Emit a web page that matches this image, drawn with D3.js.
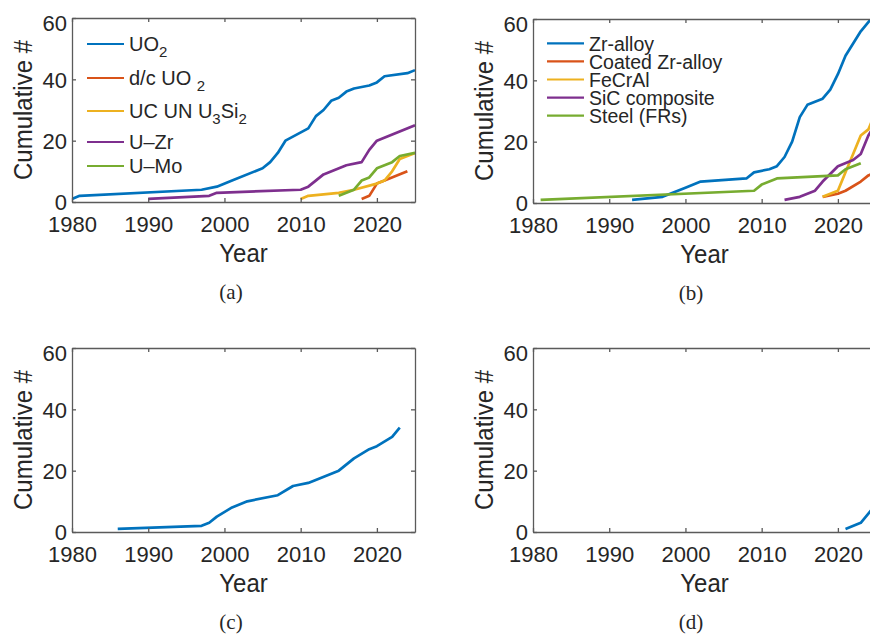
<!DOCTYPE html>
<html>
<head>
<meta charset="utf-8">
<script src="https://cdn.jsdelivr.net/npm/d3@7"></script>
<style>
  body { margin: 0; background: #fff; }
  svg text { font-family: "Liberation Sans", Arial, Helvetica, sans-serif; fill: #262626; }
  .caption { font-family: "Liberation Serif", "DejaVu Serif", serif !important; }
</style>
</head>
<body>
<div id="chart"></div>
<script>
// ---- data ----
const xTicks = [1980, 1990, 2000, 2010, 2020];
const yTicks = [0, 20, 40, 60];

// (a) fuel types
const uo2Years = [1980, 1981, 1997, 1999, 2001, 2005, 2006, 2007, 2008, 2011, 2012, 2013, 2014, 2015, 2016, 2017, 2019, 2020, 2021, 2024, 2025];
const uo2Values = [1, 2, 4, 5, 7, 11, 13, 16, 20, 24, 28, 30, 33, 34, 36, 37, 38, 39, 41, 42, 43];
const dcUo2Years = [2018, 2019, 2020, 2021, 2024];
const dcUo2Values = [1, 2, 6, 7, 10];
const ucYears = [2010, 2011, 2015, 2017, 2020, 2021, 2022, 2023, 2024, 2025];
const ucValues = [1, 2, 3, 4, 6, 7, 10, 14, 15, 16];
const uzrYears = [1990, 1998, 1999, 2010, 2011, 2013, 2016, 2018, 2019, 2020, 2025];
const uzrValues = [1, 2, 3, 4, 5, 9, 12, 13, 17, 20, 25];
const umoYears = [2015, 2017, 2018, 2019, 2020, 2022, 2023, 2025];
const umoValues = [2, 4, 7, 8, 11, 13, 15, 16];

// (b) cladding types
const zrYears = [1993, 1997, 2000, 2002, 2008, 2009, 2011, 2012, 2013, 2014, 2015, 2016, 2018, 2019, 2020, 2021, 2022, 2023, 2024, 2025];
const zrValues = [1, 2, 5, 7, 8, 10, 11, 12, 15, 20, 28, 32, 34, 37, 42, 48, 52, 56, 59, 62];
const coatedYears = [2018, 2020, 2021, 2023, 2024, 2025];
const coatedValues = [2, 3, 4, 7, 9, 10];
const fecralYears = [2018, 2020, 2021, 2022, 2023, 2024, 2025];
const fecralValues = [2, 4, 10, 16, 22, 24, 30];
const sicYears = [2013, 2015, 2017, 2018, 2020, 2022, 2023, 2024, 2025];
const sicValues = [1, 2, 4, 7, 12, 14, 16, 22, 26];
const steelYears = [1981, 2009, 2010, 2012, 2020, 2021, 2023];
const steelValues = [1, 4, 6, 8, 9, 11, 13];

// (c) and (d)
const cYears = [1986, 1997, 1998, 1999, 2001, 2003, 2007, 2009, 2011, 2015, 2017, 2019, 2020, 2022, 2023];
const cValues = [1, 2, 3, 5, 8, 10, 12, 15, 16, 20, 24, 27, 28, 31, 34];
const dYears = [2021, 2023, 2024, 2025];
const dValues = [1, 3, 6, 9];

const C = ["#0072BD", "#D95319", "#EDB120", "#7E2F8E", "#77AC30"];

const zip = (ys, vs) => ys.map((y, i) => ({ year: y, value: vs[i] }));

const panels = [
  { left: 72, top: 18, caption: "(a)", capX: 231,
    legend: { dx: 15, dy: 26, gaps: [34, 33, 31, 24], size: 20, base: 7 },
    series: [
      { name: "UO_2", color: C[0], data: zip(uo2Years, uo2Values) },
      { name: "d/c UO _2", color: C[1], data: zip(dcUo2Years, dcUo2Values) },
      { name: "UC UN U_3Si_2", color: C[2], data: zip(ucYears, ucValues) },
      { name: "U\u2013Zr", color: C[3], data: zip(uzrYears, uzrValues) },
      { name: "U\u2013Mo", color: C[4], data: zip(umoYears, umoValues) }
    ] },
  { left: 533, top: 19, caption: "(b)", capX: 691,
    legend: { dx: 14, dy: 24.3, gaps: [18.1, 18.1, 18.1, 18.1], size: 19.5, base: 7.5 },
    series: [
      { name: "Zr-alloy", color: C[0], data: zip(zrYears, zrValues) },
      { name: "Coated Zr-alloy", color: C[1], data: zip(coatedYears, coatedValues) },
      { name: "FeCrAl", color: C[2], data: zip(fecralYears, fecralValues) },
      { name: "SiC composite", color: C[3], data: zip(sicYears, sicValues) },
      { name: "Steel (FRs)", color: C[4], data: zip(steelYears, steelValues) }
    ] },
  { left: 72, top: 348, caption: "(c)", capX: 231,
    series: [{ name: "c", color: C[0], data: zip(cYears, cValues) }] },
  { left: 533, top: 348, caption: "(d)", capX: 691,
    series: [{ name: "d", color: C[0], data: zip(dYears, dValues) }] }
];

const W = 343, H = 184;
const AXIS = "#5a5a5a";
const STRETCH = 1.1; // axis titles in the figure are a bit taller than plain Arial

const svg = d3.select("#chart").append("svg")
  .attr("width", 870).attr("height", 636)
  .style("background", "#fff");

// label with "_x" subscripts
function richText(sel, str) {
  const parts = str.split(/(_\w)/).filter(s => s.length);
  let sub = false;
  parts.forEach(p => {
    if (p.startsWith("_")) {
      sel.append("tspan").attr("font-size", 15).attr("dy", 6).text(p.slice(1));
      sub = true;
    } else {
      sel.append("tspan").attr("dy", sub ? -6 : 0).text(p);
      sub = false;
    }
  });
}

// stretch text vertically about its anchor point
function stretch(sel, s) {
  sel.each(function() {
    const t = d3.select(this);
    const x = +t.attr("x") || 0, y = +t.attr("y") || 0;
    t.attr("transform", `translate(${x},${y}) scale(1,${s}) translate(${-x},${-y})`);
  });
}

panels.forEach((p, pi) => {
  const x = d3.scaleLinear().domain([1980, 2025]).range([0, W]);
  const y = d3.scaleLinear().domain([0, 60]).range([H, 0]);
  const g = svg.append("g").attr("transform", `translate(${p.left},${p.top})`);

  const clipId = "clip" + pi;
  g.append("clipPath").attr("id", clipId)
    .append("rect").attr("width", W).attr("height", H);

  // lines
  const line = d3.line().x(d => x(d.year)).y(d => y(d.value));
  g.append("g").attr("clip-path", `url(#${clipId})`)
    .selectAll("path").data(p.series).join("path")
    .attr("d", d => line(d.data))
    .attr("fill", "none")
    .attr("stroke", d => d.color)
    .attr("stroke-width", 2.7)
    .attr("stroke-linejoin", "round");

  // axes (box with inward ticks)
  const bottom = g.append("g").attr("transform", `translate(0,${H})`)
    .call(d3.axisBottom(x).tickValues(xTicks).tickFormat(d3.format("d")).tickSizeInner(-4).tickSizeOuter(0).tickPadding(10));
  const leftAx = g.append("g")
    .call(d3.axisLeft(y).tickValues(yTicks).tickSizeInner(-4).tickSizeOuter(0).tickPadding(6));
  const topAx = g.append("g")
    .call(d3.axisTop(x).tickValues(xTicks).tickFormat("").tickSizeInner(-4).tickSizeOuter(0));
  const rightAx = g.append("g").attr("transform", `translate(${W},0)`)
    .call(d3.axisRight(y).tickValues(yTicks).tickFormat("").tickSizeInner(-4).tickSizeOuter(0));

  [bottom, leftAx, topAx, rightAx].forEach(a => {
    a.select(".domain").attr("stroke", AXIS).attr("stroke-width", 1.3);
    a.selectAll(".tick line").attr("stroke", AXIS).attr("stroke-width", 1.3);
  });
  bottom.selectAll("text").attr("font-size", 22).attr("fill", "#262626")
    .attr("dy", null).attr("y", 30).attr("dominant-baseline", "alphabetic")
    .style("font-family", "Liberation Sans, Arial, sans-serif");
  leftAx.selectAll("text").attr("font-size", 22).attr("fill", "#262626")
    .attr("x", -5)
    .attr("dy", d => d === 60 ? "0.55em" : "0.35em")
    .style("font-family", "Liberation Sans, Arial, sans-serif");

  // axis titles
  g.append("text")
    .attr("x", W / 2).attr("y", H + 60)
    .attr("text-anchor", "middle").attr("font-size", 24)
    .text("Year")
    .call(stretch, STRETCH);
  g.append("text")
    .attr("transform", `translate(${-40},${H / 2}) rotate(-90) scale(1,${STRETCH})`)
    .attr("text-anchor", "middle").attr("font-size", 24)
    .text("Cumulative #");

  // caption
  svg.append("text").attr("class", "caption")
    .attr("x", p.capX).attr("y", p.top + H + 97)
    .attr("text-anchor", "middle").attr("font-size", 21)
    .text(p.caption);

  // legend
  if (p.legend) {
    const L = p.legend;
    let ly = L.dy;
    const lg = g.append("g");
    p.series.forEach((s, i) => {
      if (i > 0) ly += L.gaps[i - 1];
      lg.append("line")
        .attr("x1", L.dx).attr("x2", L.dx + 37)
        .attr("y1", ly).attr("y2", ly)
        .attr("stroke", s.color).attr("stroke-width", 2.2);
      const t = lg.append("text")
        .attr("x", L.dx + 42).attr("y", ly + L.base)
        .attr("font-size", L.size);
      richText(t, s.name);
    });
  }
});
</script>
</body>
</html>
